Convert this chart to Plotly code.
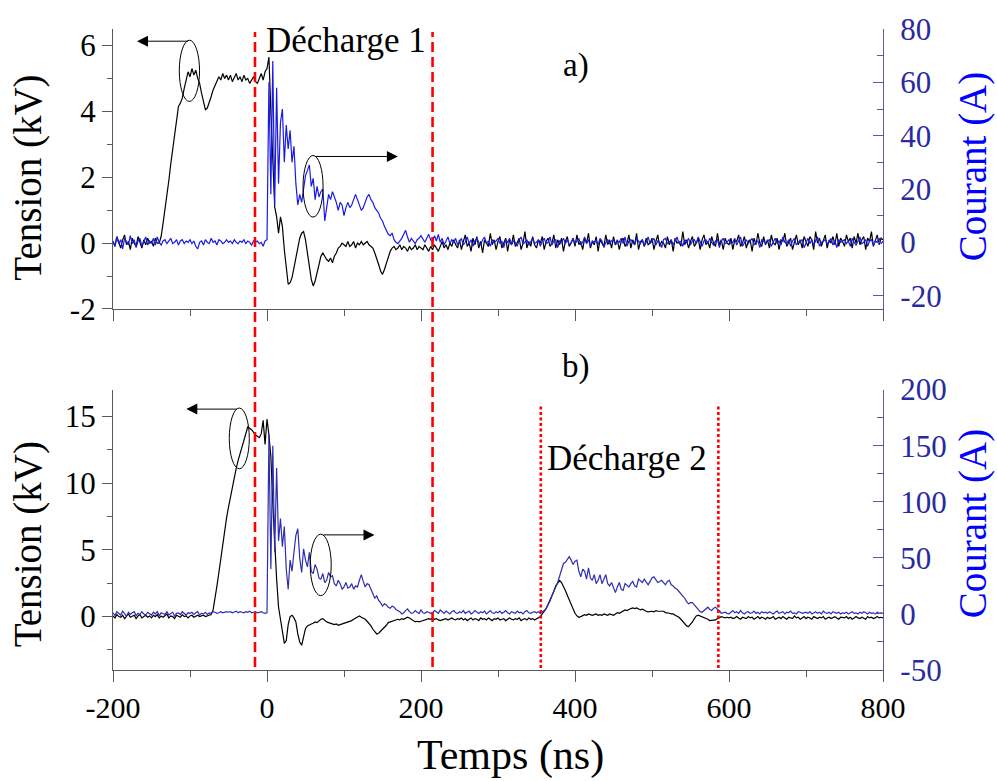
import numpy as np
import plotly.graph_objects as go

# ---------------- data ----------------
T_START = -200.0   # ns, first oscilloscope sample
T_STEP = 2.5       # ns, sampling interval (one row = 50 ns = 20 samples)

# a) Tension (kV) - rows of 50 ns starting at -200 ns
tension_a_rows = [
    [0.05,-0.10,0.20,0.00,-0.15,0.10,0.25,-0.05,0.05,-0.20,0.15,0.00,-0.10,0.20,0.05,-0.15,0.10,-0.05,0.15,0.00],
    [0.05,-0.10,0.15,0.00,0.00,0.20,0.60,1.00,1.45,1.90,2.40,2.80,3.25,3.65,4.15,4.25,4.40,4.70,5.00,5.20],
    [5.05,5.30,5.10,5.25,5.00,4.85,4.55,4.25,4.05,4.10,4.25,4.45,4.65,4.80,4.90,5.05,4.95,5.15,5.00,5.10],
    [4.95,5.10,4.90,5.05,5.15,4.95,5.05,4.90,5.10,4.95,5.00,4.85,4.95,5.05,4.90,4.85,5.00,5.15,4.95,5.20],
    [5.30,5.65,4.00,2.20,1.10,0.80,0.30,0.80,0.50,-0.20,-0.80,-1.25,-1.20,-1.05,-0.75,-0.45,-0.15,0.15,0.30,0.35],
    [0.10,-0.25,-0.70,-1.10,-1.30,-1.15,-0.85,-0.65,-0.40,-0.30,-0.40,-0.50,-0.55,-0.45,-0.60,-0.40,-0.30,-0.15,-0.10,0.00],
    [-0.05,-0.10,0.05,-0.10,-0.05,0.05,-0.15,0.00,-0.05,0.05,-0.05,0.00,0.05,-0.05,-0.10,-0.15,-0.30,-0.45,-0.65,-0.85],
    [-0.95,-0.80,-0.60,-0.40,-0.25,-0.15,-0.10,-0.20,-0.15,-0.05,-0.20,-0.10,-0.15,-0.25,-0.10,-0.20,-0.15,-0.05,-0.20,-0.10],
    [-0.15,-0.20,-0.05,-0.15,-0.25,-0.10,-0.20,-0.05,-0.15,-0.25,-0.10,0.05,-0.15,-0.05,-0.20,0.00,-0.10,0.10,-0.05,-0.15],
    [0.10,-0.20,0.05,0.25,-0.10,0.00,-0.25,0.15,-0.05,0.20,-0.15,0.05,-0.30,0.10,0.00,-0.10,0.30,-0.05,0.10,-0.20],
    [0.05,0.20,-0.15,0.00,0.15,-0.25,0.10,-0.05,0.25,-0.10,0.05,0.15,-0.20,0.00,0.35,-0.15,0.05,-0.10,0.20,-0.05],
    [-0.15,0.10,0.00,0.20,-0.20,0.05,0.15,-0.10,0.00,0.25,-0.15,0.10,-0.05,0.15,-0.25,0.05,0.20,-0.10,0.00,0.15],
    [-0.10,0.25,-0.05,0.05,-0.20,0.15,0.00,0.30,-0.15,0.05,-0.05,0.20,-0.25,0.10,0.00,-0.10,0.25,-0.05,0.10,-0.15],
    [0.20,-0.05,0.10,-0.20,0.05,0.15,-0.10,0.00,0.25,-0.15,0.10,-0.05,0.30,-0.20,0.05,0.10,-0.10,0.15,-0.05,0.00],
    [0.15,-0.20,0.05,0.25,-0.10,0.05,0.00,-0.15,0.20,-0.05,0.10,-0.25,0.15,0.00,0.05,-0.10,0.35,-0.05,0.10,-0.15],
    [0.05,0.20,-0.10,0.00,0.15,-0.20,0.10,0.25,-0.05,0.05,-0.15,0.20,0.00,-0.10,0.30,-0.05,0.10,-0.20,0.15,0.00],
    [-0.05,0.15,-0.20,0.10,0.05,0.25,-0.10,0.00,0.20,-0.15,0.05,0.10,-0.25,0.15,-0.05,0.30,0.00,-0.10,0.20,-0.05],
    [0.10,-0.15,0.25,0.00,-0.05,0.15,-0.20,0.10,0.05,0.30,-0.10,0.05,0.15,-0.20,0.00,0.25,-0.05,0.10,-0.15,0.20],
    [0.05,-0.10,0.20,0.10,-0.20,0.35,0.00,0.15,-0.10,0.05,0.25,-0.15,0.10,0.00,0.20,-0.05,0.30,-0.10,0.15,0.05],
    [-0.10,0.25,0.05,0.15,-0.15,0.20,0.00,0.30,-0.05,0.10,0.20,-0.20,0.15,0.05,0.35,-0.10,0.10,0.25,-0.05,0.15],
    [0.10],
]

# a) Courant (A)
courant_a_rows = [
    [0.5,-1.5,2.0,-0.5,1.0,-2.5,1.5,0.0,-1.0,2.5,-0.5,1.0,-2.0,0.5,1.5,-1.5,0.0,2.0,-1.0,0.5],
    [-0.5,1.5,-1.0,2.0,0.0,-1.0,0.5,1.0,-0.5,0.5,1.5,-0.5,0.0,1.0,-1.0,0.5,1.0,-0.5,0.5,0.0],
    [1.0,-0.5,0.5,-1.5,-2.5,0.0,0.5,-1.0,1.0,0.0,-0.5,1.5,0.0,0.5,-1.0,1.0,0.5,-0.5,0.0,1.0],
    [0.0,0.5,-0.5,1.0,0.0,-0.5,0.5,0.0,1.0,-0.5,0.5,0.0,-1.0,0.5,0.0,0.5,-0.5,0.0,-1.5,0.5],
    [1.0,60,18,68,14,58,22,45,50,30,44,35,42,30,36,22,14,18,15,20],
    [25,27,29,21,24,16,21,17,19,20,8,13,18,16,19,17,15,12,15,14],
    [10,13,15,13,14,16,18,16,14,12,13,15,17,18,16,15,13,12,11,9],
    [8,6,4.5,3,2.5,3.5,1,0,-0.5,0.5,1.5,3,4.5,2,0,1.5,0.5,-0.5,1,1.5],
    [2.5,1.0,0.0,1.5,3.0,1.0,0.0,2.5,0.5,3.0,0.0,1.5,-1.0,0.5,2.0,-0.5,1.0,0.0,1.5,-1.0],
    [0.5,1.5,-1.0,0.0,2.0,-0.5,1.0,-1.5,0.5,1.5,0.0,-1.0,1.0,2.0,-0.5,0.5,-1.5,1.0,0.0,0.5],
    [1.5,-0.5,0.5,-2.0,1.0,0.0,1.5,-1.0,0.5,0.0,-1.5,1.0,2.0,-0.5,0.0,1.0,-1.0,0.5,1.5,-0.5],
    [0.0,1.0,-1.5,0.5,1.5,-0.5,0.0,2.0,-1.0,0.5,1.0,-2.0,0.5,0.0,1.5,-0.5,1.0,-1.0,0.0,1.5],
    [-0.5,0.5,1.5,-1.0,0.0,2.0,-0.5,1.0,-1.5,0.5,0.0,1.0,-1.0,1.5,0.5,-2.0,0.0,1.0,-0.5,0.5],
    [1.0,-1.0,0.5,0.0,1.5,-0.5,2.0,-1.5,0.5,1.0,0.0,-1.0,1.5,0.5,-0.5,1.0,-1.5,0.0,2.0,-0.5],
    [0.5,1.5,-1.0,0.5,0.0,-2.0,1.0,1.5,-0.5,0.0,1.0,-1.0,0.5,2.0,-0.5,0.5,-1.5,1.0,0.0,1.5],
    [-1.0,0.5,1.0,-0.5,2.0,0.0,-1.5,0.5,1.0,-0.5,1.5,0.0,-1.0,0.5,1.0,-2.0,0.5,1.5,-0.5,0.0],
    [1.0,-0.5,0.0,1.5,-1.0,0.5,2.0,-1.5,0.0,1.0,-0.5,0.5,1.5,-1.0,0.0,0.5,-2.0,1.0,0.5,-0.5],
    [0.5,1.0,-1.5,0.0,1.5,-0.5,0.5,-1.0,2.0,0.0,-0.5,1.0,-1.5,0.5,1.5,-1.0,0.0,0.5,1.0,-2.0],
    [0.0,1.5,-0.5,1.0,-1.0,0.5,2.0,-1.5,0.0,0.5,1.0,-0.5,0.0,1.5,-1.0,0.5,-2.0,1.0,0.0,0.5],
    [1.0,-0.5,0.5,-1.5,1.5,0.0,-1.0,0.5,2.0,-0.5,0.0,1.0,-1.5,0.5,1.0,-1.0,0.5,0.0,1.5,-0.5],
    [0.5],
]

# b) Tension (kV)
tension_b_rows = [
    [0.05,-0.10,0.15,0.00,-0.05,0.10,-0.15,0.05,0.20,-0.05,0.00,0.10,-0.15,0.05,0.15,-0.10,0.00,0.10,-0.05,0.05],
    [-0.10,0.10,0.00,0.15,-0.10,0.05,-0.05,0.10,0.20,-0.10,0.05,0.00,-0.15,0.10,0.05,-0.05,0.15,0.00,0.05,-0.10],
    [0.05,0.10,-0.05,0.05,0.10,0.00,0.05,0.10,0.00,0.05,0.10,0.15,0.50,1.30,2.30,3.30,4.40,5.40,6.50,7.40],
    [8.20,9.00,9.80,10.50,11.10,11.70,12.20,12.70,13.40,13.90,14.20,14.10,14.00,13.80,13.60,13.50,13.40,13.70,14.70,12.90],
    [14.80,13.60,12.00,8.50,5.50,2.80,0.70,-0.30,-1.30,-2.00,-1.80,-0.60,0.00,0.10,-0.10,-0.40,-1.30,-1.90,-2.15,-1.50],
    [-0.90,-0.70,-0.60,-0.55,-0.50,-0.40,-0.45,-0.30,-0.20,-0.15,-0.30,-0.40,-0.45,-0.50,-0.55,-0.60,-0.55,-0.65,-0.60,-0.55],
    [-0.50,-0.50,-0.40,-0.35,-0.30,-0.20,-0.10,0.00,0.05,-0.05,-0.10,-0.20,-0.35,-0.50,-0.70,-0.95,-1.15,-1.30,-1.25,-1.10],
    [-1.00,-0.85,-0.65,-0.45,-0.40,-0.35,-0.30,-0.30,-0.20,-0.25,-0.15,-0.20,-0.10,-0.05,-0.10,-0.20,-0.35,-0.40,-0.35,-0.40],
    [-0.35,-0.30,-0.25,-0.20,-0.15,-0.20,-0.10,-0.20,-0.15,-0.25,-0.30,-0.25,-0.20,-0.15,-0.25,-0.20,-0.10,-0.20,-0.25,-0.15],
    [-0.20,-0.10,-0.25,-0.15,-0.30,-0.20,-0.10,-0.25,-0.15,-0.20,-0.30,-0.10,-0.20,-0.15,-0.25,-0.10,-0.20,-0.30,-0.15,-0.20],
    [-0.10,-0.25,-0.20,-0.15,-0.30,-0.20,-0.10,-0.20,-0.25,-0.15,-0.20,-0.10,-0.30,-0.20,-0.15,-0.25,-0.10,-0.20,-0.15,-0.25],
    [-0.15,-0.10,0.00,0.20,0.40,0.60,0.90,1.20,1.50,1.90,2.30,2.55,2.70,2.55,2.30,1.95,1.60,1.25,0.90,0.60],
    [0.25,0.05,-0.05,0.00,0.10,0.15,0.10,0.20,0.15,0.10,0.15,0.20,0.10,0.15,0.10,0.20,0.15,0.10,0.20,0.15],
    [0.10,0.20,0.30,0.25,0.35,0.45,0.50,0.45,0.55,0.60,0.65,0.60,0.65,0.55,0.50,0.55,0.45,0.40,0.35,0.40],
    [0.40,0.35,0.45,0.40,0.40,0.35,0.40,0.30,0.30,0.25,0.20,0.20,0.10,0.05,-0.05,-0.20,-0.35,-0.55,-0.70,-0.75],
    [-0.60,-0.40,-0.15,0.05,0.10,0.05,0.00,-0.05,-0.15,-0.20,-0.30,-0.30,-0.25,-0.25,-0.15,-0.05,0.00,-0.05,-0.10,-0.05],
    [-0.10,-0.05,-0.15,-0.10,0.00,-0.10,-0.20,-0.05,-0.10,-0.15,0.00,-0.10,-0.05,-0.20,-0.10,0.00,-0.15,-0.05,-0.10,-0.20],
    [-0.05,-0.15,-0.10,0.00,-0.20,-0.10,-0.05,-0.15,0.00,-0.10,-0.20,-0.05,-0.10,-0.15,0.05,-0.10,-0.05,-0.20,-0.10,0.00],
    [-0.15,-0.05,-0.10,-0.20,0.00,-0.10,-0.15,-0.05,-0.10,0.00,-0.20,-0.10,-0.05,-0.15,-0.10,0.00,-0.10,-0.20,-0.05,-0.10],
    [-0.10,0.00,-0.15,-0.05,-0.20,-0.10,0.00,-0.10,-0.15,-0.05,-0.10,-0.20,0.00,-0.10,-0.05,-0.15,-0.10,0.00,-0.10,-0.05],
    [-0.10],
]

# b) Courant (A)
courant_b_rows = [
    [1.0,-1.5,2.0,0.0,-1.0,2.5,0.5,-2.0,1.5,-0.5,1.0,2.0,-1.5,0.5,-0.5,2.0,0.0,-1.0,1.5,0.5],
    [-1.0,1.5,0.0,2.0,-1.5,1.0,0.5,-0.5,2.0,-1.0,0.5,1.5,-2.0,0.5,1.0,-0.5,2.0,0.0,-1.0,1.0],
    [0.5,1.5,-0.5,1.0,2.0,-1.0,0.5,0.0,1.5,-0.5,1.0,0.5,2.0,1.5,0.5,1.0,2.0,1.0,1.5,2.0],
    [1.5,2.0,1.0,1.5,2.5,1.0,2.0,1.5,1.0,2.0,1.5,2.5,1.0,1.5,2.0,1.0,1.5,2.0,1.0,0.5],
    [1.0,160,40,150,55,130,65,85,60,78,40,22,48,38,55,70,76,50,37,58],
    [48,42,55,38,36,44,40,32,31,36,28,30,37,33,34,27,25,30,27,22],
    [24,28,23,24,27,22,25,24,30,35,29,24,27,26,22,18,14,16,12,10],
    [7,9,8,6,5,7,6,4,3,2,0,1,3,4.5,2,0.5,1,3,1.5,0.5],
    [3.5,1,0.5,2,1.5,0.5,1,3,2,0.5,3.5,1.5,0.5,2.5,1,0,2,3,1,0.5],
    [2.0,1.0,3.0,0.5,1.5,2.5,0.0,1.0,3.0,1.5,0.5,2.0,1.0,2.5,0.0,1.5,3.0,1.0,0.5,2.0],
    [1.0,2.5,0.5,1.5,3.0,1.0,0.0,2.0,1.5,0.5,2.5,1.0,1.5,0.0,2.0,3.0,1.0,0.5,1.5,2.0],
    [1.0,2.0,0.5,1.5,3.0,5.0,8.0,11.5,16.0,21,24,28,33,39,45,46,48,51,48,44],
    [47,48,38,33,40,38,31,41,32,30,35,27,30,35,27,32,35,27,25,28],
    [24,19,24,28,22,21,27,25,24,27,29,25,24,31,29,28,31,29,26,29],
    [32,33,31,28,29,30,28,26,29,30,26,25,23,22,20,18,16,14,11,9],
    [10,10,8,6,3,2,1.5,3,4.5,6,4,3,5,6,4,3,0.5,1,1.5,0.5],
    [0.0,1.5,3.0,1.0,2.0,0.5,3.0,1.0,0.0,1.5,2.0,0.5,1.0,2.5,0.5,1.5,0.0,2.0,1.0,1.5],
    [0.5,2.0,1.0,0.0,1.5,2.5,0.5,1.0,2.0,0.0,1.5,1.0,2.5,0.5,1.0,0.0,2.0,1.5,0.5,1.0],
    [1.5,0.5,2.0,0.0,1.0,2.0,0.5,1.5,0.0,2.5,1.0,0.5,1.5,0.0,2.0,1.0,0.5,1.5,0.0,1.0],
    [0.5,1.5,0.0,1.0,2.0,0.5,1.0,0.0,1.5,0.5,2.0,1.0,0.0,1.5,0.5,1.0,0.0,1.5,0.5,1.0],
    [0.5],
]

X_TICKS = [-200, 0, 200, 400, 600, 800]
X_TEXT = ["-200", "0", "200", "400", "600", "800"]
X_MINOR = [-100, 100, 300, 500, 700]
VA_TICKS = [-2, 0, 2, 4, 6]
VA_TEXT = ["-2", "0", "2", "4", "6"]
VA_MINOR = [-1, 1, 3, 5]
IA_TICKS = [-20, 0, 20, 40, 60, 80]
IA_TEXT = ["-20", "0", "20", "40", "60", "80"]
IA_MINOR = [-10, 10, 30, 50, 70]
VB_TICKS = [0, 5, 10, 15]
VB_TEXT = ["0", "5", "10", "15"]
VB_MINOR = [-2.5, 2.5, 7.5, 12.5]
IB_TICKS = [-50, 0, 50, 100, 150, 200]
IB_TEXT = ["-50", "0", "50", "100", "150", "200"]
IB_MINOR = [-25, 25, 75, 125, 175]

DECHARGE_1 = [-15.6, 215.0]   # ns, red dashed markers
DECHARGE_2 = [355.6, 586.2]   # ns, red dotted markers


def flatten(rows):
    return [v for r in rows for v in r]


tension_a = flatten(tension_a_rows)
courant_a = flatten(courant_a_rows)
tension_b = flatten(tension_b_rows)
courant_b = flatten(courant_b_rows)
for name, s in [("ta", tension_a), ("ca", courant_a), ("tb", tension_b), ("cb", courant_b)]:
    assert len(s) == 401, (name, len(s))
temps = T_START + T_STEP * np.arange(len(tension_a))

# ---------------- figure ----------------
FONT = "Liberation Serif"
AX_COL = "#5a5a5a"
R_AX_COL = "#5a5aa8"
R_TXT_COL = "#2a2aa0"
BLUE_A = "#1a1ae6"
BLUE_B = "#2e2eb0"

fig = go.Figure()
fig.add_trace(go.Scatter(x=temps, y=tension_a, mode="lines", line=dict(color="black", width=1.2),
                         xaxis="x", yaxis="y", showlegend=False))
fig.add_trace(go.Scatter(x=temps, y=courant_a, mode="lines", line=dict(color=BLUE_A, width=1.2),
                         xaxis="x", yaxis="y2", showlegend=False))
fig.add_trace(go.Scatter(x=temps, y=tension_b, mode="lines", line=dict(color="black", width=1.2),
                         xaxis="x2", yaxis="y3", showlegend=False))
fig.add_trace(go.Scatter(x=temps, y=courant_b, mode="lines", line=dict(color=BLUE_B, width=1.2),
                         xaxis="x2", yaxis="y4", showlegend=False))

TOP_DOM = [0.5632, 1.0]
BOT_DOM = [0.0, 0.4374]


def xax(anchor, labels):
    return dict(domain=[0, 1], anchor=anchor, range=[-200, 800], tickmode="array", tickvals=X_TICKS,
                ticktext=X_TEXT, showticklabels=labels, ticks="outside", ticklen=11, tickwidth=1.2,
                tickcolor=AX_COL,
                minor=dict(tickmode="array", tickvals=X_MINOR, ticks="outside", ticklen=6,
                           tickwidth=1.2, tickcolor=AX_COL),
                showline=True, linecolor=AX_COL, linewidth=1.3, showgrid=False, zeroline=False,
                tickfont=dict(family=FONT, size=30, color="black"))


def yleft(dom, anchor, rng, tv, tt, mv):
    return dict(domain=dom, anchor=anchor, range=rng, tickmode="array", tickvals=tv, ticktext=tt,
                ticks="outside", ticklen=10, tickwidth=1.2, tickcolor=AX_COL,
                minor=dict(tickmode="array", tickvals=mv, ticks="outside", ticklen=5,
                           tickwidth=1.2, tickcolor=AX_COL),
                showline=True, linecolor=AX_COL, linewidth=1.3, showgrid=False, zeroline=False,
                tickfont=dict(family=FONT, size=31, color="black"))


def yright(over, anchor, rng, tv, tt, mv):
    return dict(overlaying=over, side="right", anchor=anchor, range=rng, tickmode="array", tickvals=tv,
                ticktext=tt, ticks="inside", ticklen=10, tickwidth=1.2, tickcolor=R_AX_COL,
                minor=dict(tickmode="array", tickvals=mv, ticks="inside", ticklen=6,
                           tickwidth=1.2, tickcolor=R_AX_COL),
                showline=True, linecolor=R_AX_COL, linewidth=1.3, showgrid=False, zeroline=False,
                ticklabelstandoff=10,
                tickfont=dict(family=FONT, size=31, color=R_TXT_COL))


shapes = []
for t in DECHARGE_1:
    shapes.append(dict(type="line", xref="x", yref="paper", x0=t, x1=t, y0=0.0047, y1=0.9953,
                       line=dict(color="#ff0000", width=2.6, dash="10px,5px")))
for t in DECHARGE_2:
    shapes.append(dict(type="line", xref="x2", yref="paper", x0=t, x1=t, y0=0.003, y1=0.413,
                       line=dict(color="#ff0000", width=2.6, dash="3px,2.5px")))
# ellipses marking which curve belongs to which axis
shapes += [
    dict(type="circle", xref="x", yref="y", x0=-113.9, x1=-87.6, y0=4.30, y1=6.16,
         line=dict(color="black", width=1)),
    dict(type="circle", xref="x", yref="y", x0=46.8, x1=72.8, y0=0.79, y1=2.66,
         line=dict(color="black", width=1)),
    dict(type="circle", xref="x2", yref="y3", x0=-49.0, x1=-23.0, y0=11.07, y1=15.62,
         line=dict(color="black", width=1)),
    dict(type="circle", xref="x2", yref="y3", x0=56.1, x1=83.4, y0=1.57, y1=6.17,
         line=dict(color="black", width=1)),
]


def arrow(x, y, ax, xr, yr):
    return dict(x=x, y=y, ax=ax, ay=y, xref=xr, yref=yr, axref=xr, ayref=yr, text="",
                showarrow=True, arrowhead=2, arrowsize=2.2, arrowwidth=1, arrowcolor="black", standoff=0)


def label(text, x, y, size, color="black", angle=0):
    return dict(text=text, x=x, y=y, xref="paper", yref="paper", showarrow=False, textangle=angle,
                xanchor="center", yanchor="middle", font=dict(family=FONT, size=size, color=color))


annotations = [
    arrow(-168.8, 6.13, -100.7, "x", "y"),
    arrow(170.0, 2.63, 60.4, "x", "y"),
    arrow(-104.8, 15.54, -36.9, "x2", "y3"),
    arrow(139.6, 6.12, 71.3, "x2", "y3"),
    label("Tension (kV)", -0.1104, 0.768, 39, angle=-90),
    label("Tension (kV)", -0.1104, 0.196, 39, angle=-90),
    label("Courant (A)", 1.117, 0.786, 39, color="#0000ff", angle=-90),
    label("Courant (A)", 1.117, 0.229, 39, color="#0000ff", angle=-90),
    label("Temps (ns)", 0.5156, -0.1335, 42),
    label("Décharge 1", 0.302, 0.9814, 35),
    label("Décharge 2", 0.6675, 0.3292, 35),
    label("a)", 0.6013, 0.9425, 33),
    label("b)", 0.6013, 0.4736, 33),
]

fig.update_layout(
    width=997, height=781,
    margin=dict(l=113, r=114, t=26, b=111),
    paper_bgcolor="white", plot_bgcolor="white",
    showlegend=False,
    xaxis=xax("y", False),
    xaxis2=xax("y3", True),
    yaxis=yleft(TOP_DOM, "x", [-2, 6.5], VA_TICKS, VA_TEXT, VA_MINOR),
    yaxis2=yright("y", "x", [-25, 80], IA_TICKS, IA_TEXT, IA_MINOR),
    yaxis3=yleft(BOT_DOM, "x2", [-4, 17], VB_TICKS, VB_TEXT, VB_MINOR),
    yaxis4=yright("y3", "x2", [-50, 200], IB_TICKS, IB_TEXT, IB_MINOR),
    shapes=shapes,
    annotations=annotations,
    font=dict(family=FONT),
)

fig.write_html("out.html", config={"displayModeBar": False},
               post_script="document.body.style.margin='0';document.body.style.overflow='hidden';")
